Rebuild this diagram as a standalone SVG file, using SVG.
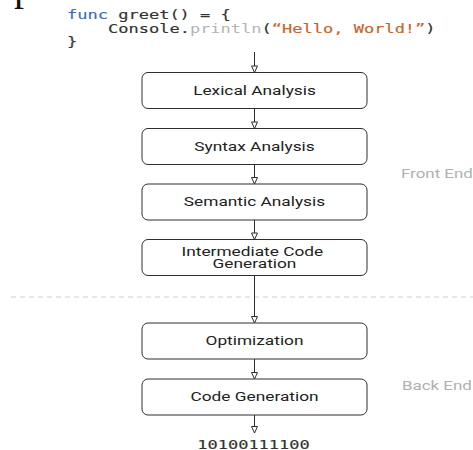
<svg xmlns="http://www.w3.org/2000/svg" width="473" height="450" viewBox="0 0 473 450">
  <style>
    .box { fill: #ffffff; stroke: #2e2e2e; stroke-width: 1; }
    .lbl { font-family: Roboto, "Liberation Sans", sans-serif; font-size: 13px; fill: #222222; text-anchor: middle; }
    .side { font-family: Roboto, "Liberation Sans", sans-serif; font-size: 13px; fill: #b0b0b0; }
    .code { font-family: "DejaVu Sans Mono", "Liberation Mono", monospace; font-size: 13px; fill: #333333; stroke: #333333; stroke-width: 0.15; }
    .kw { fill: #3d6db5; stroke: #3d6db5; }
    .dim { fill: #b4b4b4; stroke: none; }
    .str { fill: #c8642e; stroke: #c8642e; }
    .edge { stroke: #2e2e2e; stroke-width: 1; fill: none; marker-end: url(#head); }
    .divider { stroke: #cfcfcf; stroke-width: 1; stroke-dasharray: 5 4; }
  </style>
  <defs>
    <marker id="head" viewBox="0 0 8 8" refX="7.5" refY="4" markerWidth="8" markerHeight="8" markerUnits="userSpaceOnUse" orient="auto">
      <path d="M1,1 L7.5,4 L1,7 Z" fill="#ffffff" stroke="#2e2e2e" stroke-width="1"/>
    </marker>
  </defs>

  <rect width="473" height="450" fill="#ffffff"/>

  <!-- descender of a heading letter cut by the top edge -->
  <text x="14" y="-0.5" font-family="'Liberation Serif', serif" font-size="40" fill="#111111">p</text>

  <!-- source snippet -->
  <g id="source">
    <text class="code" transform="translate(67,0) scale(1.31,1)">
      <tspan x="0" y="19.5"><tspan class="kw">func</tspan> greet() = {</tspan>
      <tspan x="31.3" y="33">Console.<tspan class="dim">println</tspan>(<tspan class="str">“Hello, World!”</tspan>)</tspan>
      <tspan x="0" y="46.5">}</tspan>
    </text>
  </g>

  <!-- front end / back end divider -->
  <line class="divider" x1="11" y1="297" x2="473" y2="297"/>
  <g id="front-end">
    <text class="side" transform="translate(401,177.5) scale(1.3,1)">Front End</text>
  </g>
  <g id="back-end">
    <text class="side" transform="translate(402,390) scale(1.3,1)">Back End</text>
  </g>

  <!-- connectors -->
  <g id="connectors">
    <line class="edge" x1="254.5" y1="52" x2="254.5" y2="72.5"/>
    <line class="edge" x1="254.5" y1="108.5" x2="254.5" y2="128.5"/>
    <line class="edge" x1="254.5" y1="164.5" x2="254.5" y2="184"/>
    <line class="edge" x1="254.5" y1="220" x2="254.5" y2="239.5"/>
    <line class="edge" x1="254.5" y1="275.5" x2="254.5" y2="323"/>
    <line class="edge" x1="254.5" y1="359" x2="254.5" y2="379"/>
    <line class="edge" x1="254.5" y1="415" x2="254.5" y2="433"/>
  </g>

  <!-- compiler stages -->
  <g id="lexical">
    <rect class="box" x="142" y="72.5" width="225" height="36" rx="6"/>
    <text class="lbl" transform="translate(254.5,94.5) scale(1.33,1)">Lexical Analysis</text>
  </g>
  <g id="syntax">
    <rect class="box" x="142" y="128.5" width="225" height="36" rx="6"/>
    <text class="lbl" transform="translate(254.5,150.5) scale(1.33,1)">Syntax Analysis</text>
  </g>
  <g id="semantic">
    <rect class="box" x="142" y="184" width="225" height="36" rx="6"/>
    <text class="lbl" transform="translate(254.5,206) scale(1.33,1)">Semantic Analysis</text>
  </g>
  <g id="intermediate">
    <rect class="box" x="142" y="239.5" width="225" height="36" rx="6"/>
    <text class="lbl" transform="translate(254.5,0) scale(1.33,1)">
      <tspan x="0" y="255.8">Intermediate Code</tspan>
      <tspan x="0" y="268.5">Generation</tspan>
    </text>
  </g>
  <g id="optimization">
    <rect class="box" x="142" y="323" width="225" height="36" rx="6"/>
    <text class="lbl" transform="translate(254.5,345) scale(1.33,1)">Optimization</text>
  </g>
  <g id="codegen">
    <rect class="box" x="142" y="379" width="225" height="36" rx="6"/>
    <text class="lbl" transform="translate(254.5,401) scale(1.33,1)">Code Generation</text>
  </g>

  <!-- machine code output -->
  <g id="output">
    <text class="code" text-anchor="middle" transform="translate(253.5,448.5) scale(1.31,1)">10100111100</text>
  </g>
</svg>
